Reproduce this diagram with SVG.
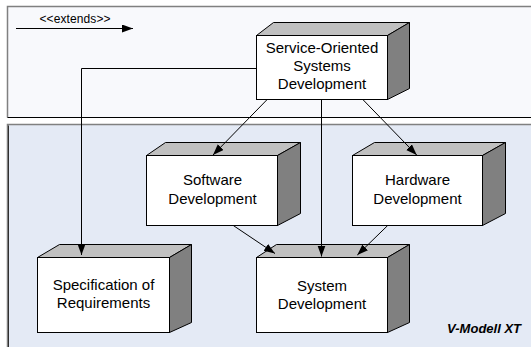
<svg xmlns="http://www.w3.org/2000/svg" width="531" height="347" viewBox="0 0 531 347">
<style>
.top{fill:#C0C0C0;stroke:#000;stroke-width:1}
.side{fill:#808080;stroke:#000;stroke-width:1}
.front{fill:#fff;stroke:#000;stroke-width:1}
.lbl{font-family:"Liberation Sans",Arial,sans-serif;font-size:15px;fill:#000;text-anchor:middle}
.con{fill:none;stroke:#000;stroke-width:1}
</style>
<defs>
<marker id="ah" markerUnits="userSpaceOnUse" markerWidth="12" markerHeight="10" refX="11" refY="4" orient="auto">
<path d="M0,0 L11,4 L0,8 z" fill="#000"/>
</marker>
</defs>
<g id="panels">
<rect x="7.5" y="6.5" width="530" height="111" fill="#F8F9FC" stroke="none"/>
<path d="M7.5,117.5 V6.5 H531" fill="none" stroke="#808080" stroke-width="1.5"/>
<path d="M7.5,117.5 H531" fill="none" stroke="#000" stroke-width="1"/>
<rect x="7.5" y="124.5" width="530" height="230" fill="#E4EAF5" stroke="none"/>
<path d="M7.5,347 V124.5 H531" fill="none" stroke="#808080" stroke-width="1.5"/>
<path d="M8.5,347 V125.5" fill="none" stroke="#303030" stroke-width="1"/>
</g>
<g id="legend">
<text x="75" y="23" font-family="'Liberation Sans',Arial,sans-serif" font-size="12" text-anchor="middle" textLength="71" lengthAdjust="spacing">&lt;&lt;extends&gt;&gt;</text>
<line x1="16" y1="28.5" x2="133" y2="28.5" class="con" marker-end="url(#ah)"/>
</g>
<g id="node-sosd">
<polygon class="top" points="256.5,35.5 273.5,22.5 409.5,22.5 387.5,35.5"/>
<polygon class="side" points="387.5,35.5 409.5,22.5 409.5,88.5 387.5,99.5"/>
<rect class="front" x="256.5" y="35.5" width="131" height="64"/>
<text class="lbl" x="322" y="52.5">Service-Oriented</text>
<text class="lbl" x="322" y="70.5">Systems</text>
<text class="lbl" x="322" y="89">Development</text>
</g>
<g id="node-software">
<polygon class="top" points="146.5,155.5 165.5,142.5 300.5,142.5 277.5,155.5"/>
<polygon class="side" points="277.5,155.5 300.5,142.5 300.5,213.5 277.5,225.5"/>
<rect class="front" x="146.5" y="155.5" width="131" height="70"/>
<text class="lbl" x="212.5" y="185">Software</text>
<text class="lbl" x="212.5" y="203.5">Development</text>
</g>
<g id="node-hardware">
<polygon class="top" points="352.5,155.5 374.5,142.5 505.5,142.5 482.5,155.5"/>
<polygon class="side" points="482.5,155.5 505.5,142.5 505.5,213.5 482.5,225.5"/>
<rect class="front" x="352.5" y="155.5" width="130" height="70"/>
<text class="lbl" x="417.5" y="185">Hardware</text>
<text class="lbl" x="417.5" y="203.5">Development</text>
</g>
<g id="node-spec">
<polygon class="top" points="37.5,257.5 59.5,244.5 191.5,244.5 169.5,257.5"/>
<polygon class="side" points="169.5,257.5 191.5,244.5 191.5,322.5 169.5,332.5"/>
<rect class="front" x="37.5" y="257.5" width="132" height="75"/>
<text class="lbl" x="103.5" y="290">Specification of</text>
<text class="lbl" x="103.5" y="308">Requirements</text>
</g>
<g id="node-system">
<polygon class="top" points="256.5,257.5 276.5,244.5 409.5,244.5 387.5,257.5"/>
<polygon class="side" points="387.5,257.5 409.5,244.5 409.5,322.5 387.5,332.5"/>
<rect class="front" x="256.5" y="257.5" width="131" height="75"/>
<text class="lbl" x="322" y="290.5">System</text>
<text class="lbl" x="322" y="308.5">Development</text>
</g>
<g id="connectors">
<line class="con" x1="266.7" y1="100" x2="213" y2="155" marker-end="url(#ah)"/>
<line class="con" x1="363.3" y1="100" x2="416.7" y2="155" marker-end="url(#ah)"/>
<line class="con" x1="321.5" y1="100" x2="321.5" y2="256.5" marker-end="url(#ah)"/>
<polyline class="con" points="256,68.5 81.5,68.5 81.5,255" marker-end="url(#ah)"/>
<line class="con" x1="233.3" y1="225.5" x2="275" y2="253.5" marker-end="url(#ah)"/>
<line class="con" x1="387.7" y1="225.5" x2="357.3" y2="255" marker-end="url(#ah)"/>
</g>
<text x="521" y="333" font-family="'Liberation Sans',Arial,sans-serif" font-size="13" font-weight="bold" font-style="italic" text-anchor="end">V-Modell XT</text>
</svg>
